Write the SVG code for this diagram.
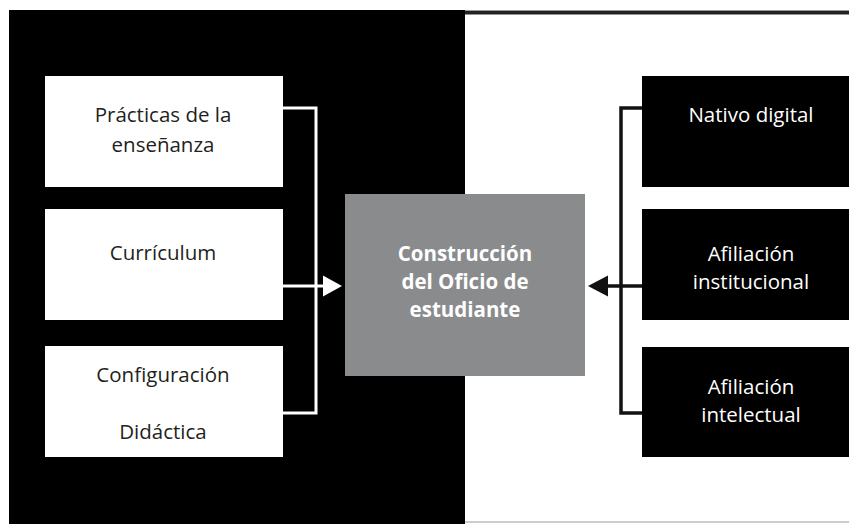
<svg xmlns="http://www.w3.org/2000/svg" width="849" height="524" viewBox="0 0 849 524">
<style>
  .lbox { fill: #ffffff; }
  .rbox { fill: #000000; }
  .cbox { fill: #8a8b8d; }
  .t { font-family: "Open Sans", "Noto Sans", "DejaVu Sans", sans-serif; font-size: 20.5px; text-anchor: middle; }
  .dark { fill: #231f20; }
  .light { fill: #ffffff; }
  .bold { font-weight: bold; }
  .wline { fill: none; stroke: #ffffff; stroke-width: 3; }
  .bline { fill: none; stroke: #111111; stroke-width: 3.5; }
</style>
<rect x="0" y="0" width="849" height="524" fill="#ffffff"/>
<g id="background">
  <rect x="9.5" y="10.5" width="845" height="511.5" fill="#ffffff" stroke="#9a9a9a" stroke-width="1"/>
  <rect x="9" y="10" width="456" height="514" fill="#000000"/>
  <rect x="465" y="11" width="384" height="3.5" fill="#222222"/>
</g>
<g id="connectors">
  <path class="wline" d="M283,108 H316 V413 H283"/>
  <path class="wline" d="M283,286 H325"/>
  <polygon points="323,275.5 342,286 323,296.5" fill="#ffffff"/>
  <path class="bline" d="M642,108 H621 V413 H642"/>
  <path class="bline" d="M642,286 H606"/>
  <polygon points="608,275.5 588,286 608,296.5" fill="#111111"/>
</g>
<g id="node-practicas">
  <rect class="lbox" x="45" y="76" width="238" height="111"/>
  <text class="t dark" x="163" y="122">Prácticas de la</text>
  <text class="t dark" x="163" y="152">enseñanza</text>
</g>
<g id="node-curriculum">
  <rect class="lbox" x="45" y="209" width="238" height="111"/>
  <text class="t dark" x="163" y="260">Currículum</text>
</g>
<g id="node-configuracion">
  <rect class="lbox" x="45" y="346" width="238" height="111"/>
  <text class="t dark" x="163" y="382">Configuración</text>
  <text class="t dark" x="163" y="439">Didáctica</text>
</g>
<g id="node-construccion">
  <rect class="cbox" x="345" y="194" width="240" height="182"/>
  <text class="t light bold" x="465" y="261">Construcción</text>
  <text class="t light bold" x="465" y="289">del Oficio de</text>
  <text class="t light bold" x="465" y="317">estudiante</text>
</g>
<g id="node-nativo">
  <rect class="rbox" x="642" y="76" width="215" height="111"/>
  <text class="t light" x="751" y="122">Nativo digital</text>
</g>
<g id="node-afiliacion-institucional">
  <rect class="rbox" x="642" y="209" width="215" height="111"/>
  <text class="t light" x="751" y="261">Afiliación</text>
  <text class="t light" x="751" y="289">institucional</text>
</g>
<g id="node-afiliacion-intelectual">
  <rect class="rbox" x="642" y="347" width="215" height="110"/>
  <text class="t light" x="751" y="394">Afiliación</text>
  <text class="t light" x="751" y="422">intelectual</text>
</g>
</svg>
